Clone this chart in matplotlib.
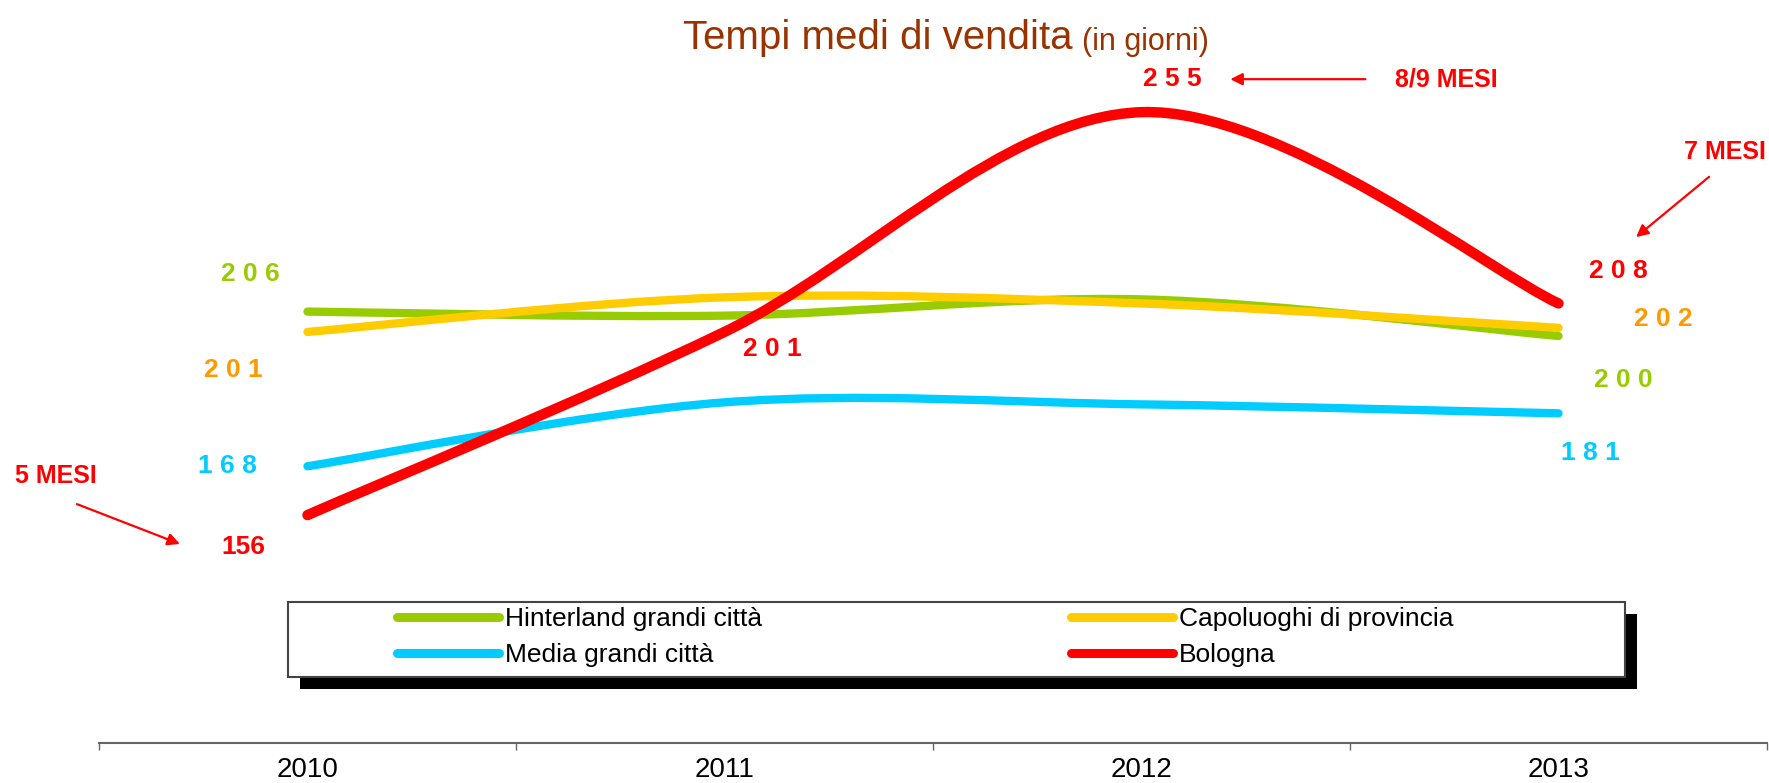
import matplotlib
matplotlib.use('Agg')
import matplotlib.pyplot as plt
from matplotlib.path import Path
from matplotlib.patches import PathPatch, Rectangle
from matplotlib.lines import Line2D

years = ['2010', '2011', '2012', '2013']
hinterland = [206, 205, 209, 200]
capoluoghi = [201, 209.5, 208, 202]
media = [168, 183.7, 183.2, 181]
bologna = [156, 201, 255, 208]

names = ['Hinterland grandi città', 'Capoluoghi di provincia',
         'Media grandi città', 'Bologna']
colors = ['#99CC00', '#FFCC00', '#00CCFF', '#FF0000']
label_colors = ['#99CC00', '#FF9900', '#00CCFF', '#FF0000']

SANS = ['Liberation Sans', 'DejaVu Sans']


def smooth_path(xs, ys):
    # smoothed line like the spreadsheet: one cubic bezier per segment
    n = len(xs)
    verts = [(xs[0], ys[0])]
    codes = [Path.MOVETO]
    for i in range(n - 1):
        a = max(i - 1, 0)
        b = min(i + 2, n - 1)
        c1 = (xs[i] + (xs[i + 1] - xs[a]) / 6, ys[i] + (ys[i + 1] - ys[a]) / 6)
        c2 = (xs[i + 1] - (xs[b] - xs[i]) / 6, ys[i + 1] - (ys[b] - ys[i]) / 6)
        verts += [c1, c2, (xs[i + 1], ys[i + 1])]
        codes += [Path.CURVE4] * 3
    return Path(verts, codes)


fig = plt.figure(figsize=(17.69, 7.83), dpi=100)
ax = fig.add_axes([99 / 1769, 40 / 783, 1668 / 1769, 732.6 / 783])
ax.set_xlim(-0.5, 3.5)
ax.set_ylim(100, 280)

x = list(range(len(years)))
series = [hinterland, capoluoghi, media, bologna]
widths = [6, 6, 6, 7.5]
for vals, c, lw in zip(series, colors, widths):
    ax.add_patch(PathPatch(smooth_path(x, vals), fill=False, edgecolor=c,
                           lw=lw, capstyle='round', joinstyle='round', zorder=2))

# axis: only the bottom line, ticks between the years
for s in ['left', 'top', 'right']:
    ax.spines[s].set_visible(False)
ax.spines['bottom'].set_color('#666666')
ax.spines['bottom'].set_linewidth(1.5)
ax.set_yticks([])
ax.set_xticks(x)
ax.set_xticklabels(years, fontsize=20, family=SANS)
ax.set_xticks([i - 0.5 for i in range(len(years) + 1)], minor=True)
ax.tick_params(axis='x', which='major', length=0, pad=10)
ax.tick_params(axis='x', which='minor', length=5, width=1, color='#666666')

# value labels (offsets in pixels from the point)
labels = [
    (hinterland, 0, (-57, 38), 0, True), (hinterland, 3, (65, -44), 0, True),
    (capoluoghi, 0, (-74, -38), 1, True), (capoluoghi, 3, (105, 9), 1, True),
    (media, 0, (-80, 0), 2, True), (media, 3, (32, -40), 2, True),
    (bologna, 0, (-64, -32), 3, False), (bologna, 1, (48, -17), 3, True),
    (bologna, 2, (31, 33), 3, True), (bologna, 3, (60, 32), 3, True),
]
for vals, i, off, k, spaced in labels:
    txt = f'{vals[i]:.0f}'
    if spaced:
        txt = ' '.join(txt)
    ax.annotate(txt, xy=(i, vals[i]), xytext=off,
                textcoords='offset pixels', ha='center', va='center',
                fontsize=19, fontweight='bold', color=label_colors[k],
                family=SANS, annotation_clip=False)

# arrows with the months
arrow = dict(arrowstyle='-|>', color='red', lw=1.6, mutation_scale=18,
             shrinkA=0, shrinkB=0)
ax.text(-0.603, 165.6, '5 MESI', color='red', fontsize=18, fontweight='bold',
        ha='center', va='center', family=SANS, clip_on=False)
ax.annotate('', xy=(-0.306, 148.9), xytext=(-0.553, 158.7),
            arrowprops=arrow, annotation_clip=False)
ax.text(2.73, 263.1, '8/9 MESI', color='red', fontsize=18, fontweight='bold',
        ha='center', va='center', family=SANS)
ax.annotate('', xy=(2.213, 263.1), xytext=(2.537, 263.1), arrowprops=arrow)
ax.text(3.40, 245.3, '7 MESI', color='red', fontsize=18, fontweight='bold',
        ha='center', va='center', family=SANS)
ax.annotate('', xy=(3.186, 224.3), xytext=(3.361, 239.1), arrowprops=arrow)

# title
t1 = fig.text(683 / 1769, 1 - 57 / 783, 'Tempi medi di vendita', color='#993300',
              fontsize=29, family=SANS, ha='left', va='bottom')
ax.annotate('(in giorni)', xy=(1, 0), xycoords=t1, xytext=(9, 0),
            textcoords='offset pixels', ha='left', va='bottom',
            color='#993300', fontsize=22, family=SANS)

# legend box with a black shadow
ax.add_patch(Rectangle((300 / 1769, 1 - 689 / 783), 1337 / 1769, 75 / 783,
                       transform=fig.transFigure, facecolor='black',
                       edgecolor='none', zorder=4, clip_on=False))
ax.add_patch(Rectangle((288 / 1769, 1 - 677 / 783), 1337 / 1769, 75 / 783,
                       transform=fig.transFigure, facecolor='white',
                       edgecolor='#444444', lw=1.5, zorder=4.5, clip_on=False))

handles = [Line2D([], [], color=c, lw=6.5, solid_capstyle='round') for c in colors]
leg_kw = dict(loc='center left', frameon=False, borderpad=0, borderaxespad=0,
              handlelength=3.85, handletextpad=0.25, labelspacing=0.45,
              bbox_transform=fig.transFigure,
              prop={'family': SANS, 'size': 19})
leg1 = ax.legend([handles[0], handles[2]], [names[0], names[2]],
                 bbox_to_anchor=(397 / 1769, 1 - 637 / 783), **leg_kw)
leg1.set_zorder(5)
ax.add_artist(leg1)
leg2 = ax.legend([handles[1], handles[3]], [names[1], names[3]],
                 bbox_to_anchor=(1071 / 1769, 1 - 637 / 783), **leg_kw)
leg2.set_zorder(5)

fig.savefig('out.png', dpi=100, facecolor='white')
